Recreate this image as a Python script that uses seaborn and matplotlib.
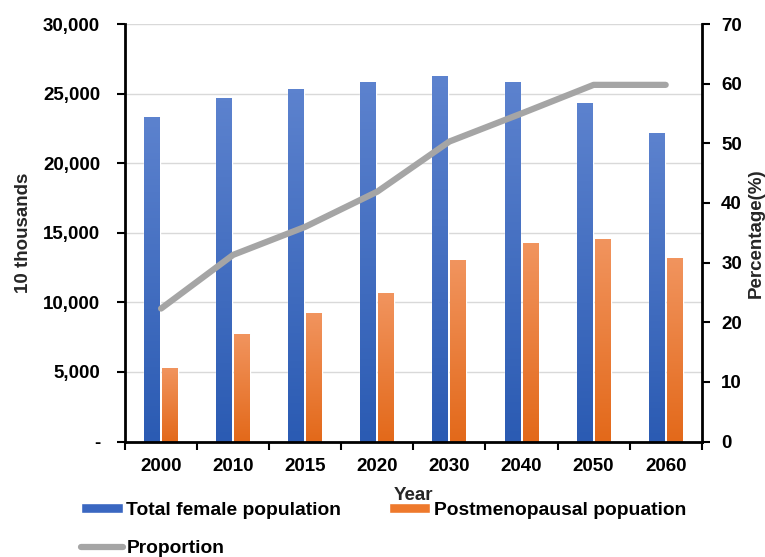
import numpy as np
import pandas as pd
import matplotlib
matplotlib.use('Agg')
import matplotlib.pyplot as plt
import seaborn as sns
from matplotlib.patches import Patch
from matplotlib.lines import Line2D
from matplotlib.colors import LinearSegmentedColormap
from matplotlib.ticker import FuncFormatter, MultipleLocator, FixedLocator

years = ['2000', '2010', '2015', '2020', '2030', '2040', '2050', '2060']
total_female = [23300, 24650, 25300, 25800, 26250, 25800, 24350, 22150]
postmeno = [5270, 7730, 9220, 10700, 13050, 14270, 14530, 13210]
proportion = [22.3, 31.3, 36.0, 41.9, 50.3, 55.0, 59.8, 59.8]
series_names = ['Total female population', 'Postmenopausal popuation']

df = pd.DataFrame({'Year': years * 2,
                   'Series': [series_names[0]] * len(years) + [series_names[1]] * len(years),
                   'Value': total_female + postmeno})

sns.set_style('white')
plt.rcParams['font.family'] = ['Liberation Sans', 'DejaVu Sans']
plt.rcParams['font.weight'] = 'bold'
plt.rcParams['axes.labelweight'] = 'bold'
plt.rcParams['font.size'] = 13.5
plt.rcParams['text.color'] = 'black'
plt.rcParams['xtick.color'] = 'black'
plt.rcParams['ytick.color'] = 'black'

fig = plt.figure(figsize=(7.65, 5.57), dpi=100)
ax = fig.add_axes([0.1634, 0.2072, 0.7539, 0.7497])

sns.barplot(data=df, x='Year', y='Value', hue='Series', order=years,
            hue_order=series_names, palette=['#3B69C3', '#EE7A2F'],
            width=0.5, gap=0.12, ax=ax, legend=False)

# gradient fill for the bars (lighter at top)
grads = [('#2B5BB3', '#5C82CE'), ('#E3691A', '#F1945E')]
for bar in list(ax.patches):
    x0, w, h = bar.get_x(), bar.get_width(), bar.get_height()
    s = 0 if (x0 + w / 2) - round(x0 + w / 2) < 0 else 1
    cmap = LinearSegmentedColormap.from_list('g%d' % s, grads[s])
    g = np.linspace(0, 1, 100).reshape(-1, 1)
    ax.imshow(g, extent=[x0, x0 + w, 0, h], origin='lower', cmap=cmap,
              aspect='auto', zorder=2.1)

ax.set_xlim(-0.5, len(years) - 0.5)
ax.set_ylim(0, 30000)
ax.yaxis.set_major_locator(MultipleLocator(5000))
ax.yaxis.set_major_formatter(FuncFormatter(lambda v, p: '-' if v == 0 else f'{v:,.0f}'))
ax.yaxis.grid(True, color='#D9D9D9', lw=1)
ax.xaxis.grid(False)

ax.tick_params(axis='y', left=True, direction='out', length=6, width=1.5, pad=12)
ax.tick_params(axis='x', which='major', bottom=True, length=0, pad=12)
ax.xaxis.set_minor_locator(FixedLocator(np.arange(-0.5, len(years), 1)))
ax.tick_params(axis='x', which='minor', bottom=True, direction='out', length=6, width=1.5)

for sp in ['top', 'right']:
    ax.spines[sp].set_visible(False)
for sp in ['left', 'bottom']:
    ax.spines[sp].set_color('black')
    ax.spines[sp].set_linewidth(2)

ax.set_xlabel('Year', labelpad=8.5)
ax.set_ylabel('10 thousands', labelpad=8)

ax2 = ax.twinx()
sns.lineplot(x=np.arange(len(years)), y=proportion, ax=ax2, color='#A5A5A5',
             lw=4.5, solid_capstyle='round')
ax2.set_ylim(0, 70)
ax2.yaxis.set_major_locator(MultipleLocator(10))
ax2.tick_params(axis='y', right=True, direction='out', length=6, width=1.5, pad=8)
for sp in ['top', 'left', 'bottom']:
    ax2.spines[sp].set_visible(False)
ax2.spines['right'].set_color('black')
ax2.spines['right'].set_linewidth(2)
ax2.set_ylabel('Percentage(%)', labelpad=4)
ax.set_xlim(-0.5, len(years) - 0.5)

handles = [Patch(facecolor='#3A67C1', label=series_names[0]),
           Line2D([], [], color='#A5A5A5', lw=4.5, solid_capstyle='round', label='Proportion'),
           Patch(facecolor='#EE792C', label=series_names[1])]
fig.legend(handles=handles, ncol=2, loc='upper left', bbox_to_anchor=(0.106, 0.099),
           frameon=False, borderpad=0, borderaxespad=0, handlelength=2.15, fontsize=13.9,
           handleheight=0.45, handletextpad=0.2, columnspacing=2.45, labelspacing=1.1)

fig.savefig('out.png', dpi=100)
